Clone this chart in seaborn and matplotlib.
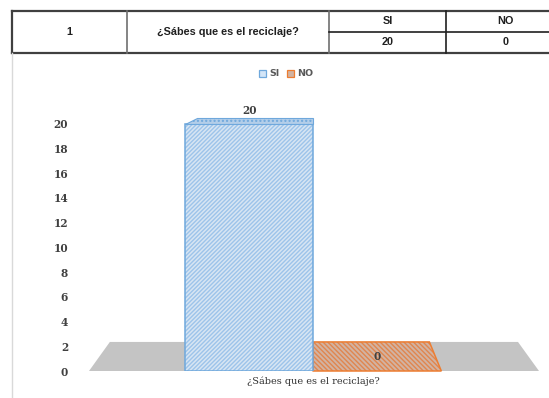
import matplotlib
matplotlib.use("Agg")
import numpy as np
import pandas as pd
import matplotlib.pyplot as plt
import seaborn as sns
from matplotlib.patches import Polygon, Rectangle, Patch
from matplotlib.lines import Line2D

# datos de la encuesta
numero_pregunta = 1
preguntas = ["¿Sábes que es el reciclaje?"]
respuestas = ["SI", "NO"]
cantidades = [20, 0]

colores_borde = {"SI": "#6FA8DC", "NO": "#ED7D31"}
colores_fondo = {"SI": "#D3E5F7", "NO": "#D2B3A2"}
colores_trama = {"SI": "#9DC4EA", "NO": "#E0864F"}
tramas = {"SI": "////////", "NO": "\\\\\\\\\\\\\\"}

df = pd.DataFrame({
    "pregunta": preguntas * len(respuestas),
    "respuesta": respuestas,
    "cantidad": cantidades,
})

W, H = 549, 398
fig = plt.figure(figsize=(W / 100, H / 100), dpi=100)
fig.patch.set_facecolor("white")


def fx(x):
    return x / W


def fy(y):
    return 1 - y / H


# tabla de arriba
t_left, t_top, t_mid, t_bot = 12, 10.5, 31.5, 53
cols = [12, 127, 329, 446, 565]
fig.add_artist(Line2D([fx(t_left), 1], [fy(t_top)] * 2, color="#404040", lw=1.6))
fig.add_artist(Line2D([fx(t_left), 1], [fy(t_bot)] * 2, color="#404040", lw=1.6))
fig.add_artist(Line2D([fx(t_left)] * 2, [fy(t_top), fy(t_bot)], color="#404040", lw=1.6))
for c, col in zip(cols[1:4], ["#707070", "#707070", "#202020"]):
    fig.add_artist(Line2D([fx(c)] * 2, [fy(t_top), fy(t_bot)], color=col, lw=1.2))
fig.add_artist(Line2D([fx(cols[2]), 1], [fy(t_mid)] * 2, color="#202020", lw=1.2))
fuente_tabla = dict(family="Liberation Sans", weight="bold", size=7.8, color="#202020",
                    ha="center", va="center")
fig.text(fx((cols[0] + cols[1]) / 2), fy((t_top + t_bot) / 2), str(numero_pregunta), **fuente_tabla)
fig.text(fx((cols[1] + cols[2]) / 2), fy((t_top + t_bot) / 2), preguntas[0], **fuente_tabla)
for i, (r, v) in enumerate(zip(respuestas, cantidades)):
    cx = fx((cols[2 + i] + cols[3 + i]) / 2)
    fig.text(cx, fy((t_top + t_mid) / 2), r, **fuente_tabla)
    fig.text(cx, fy((t_mid + t_bot) / 2), str(v), **fuente_tabla)

# borde izquierdo del area del grafico
fig.add_artist(Line2D([fx(11.5)] * 2, [fy(t_bot), 0], color="#D9D9D9", lw=1))

# grafico
ax = fig.add_axes([fx(89), fy(371), fx(539) - fx(89), fy(99) - fy(371)])
sns.barplot(data=df, x="pregunta", y="cantidad", hue="respuesta", hue_order=respuestas,
            palette=colores_fondo, width=0.8, ax=ax, legend=False, zorder=3)
ax.set_xlim(-0.7, 0.705)
ax.set_ylim(0, 22)
ax.set_yticks(range(0, 21, 2))
ax.set_xlabel("")
ax.set_ylabel("")
for s in ax.spines.values():
    s.set_visible(False)
ax.tick_params(length=0)
ax.tick_params(axis="y", pad=15)
ax.tick_params(axis="x", pad=4)
for lab in ax.get_yticklabels():
    lab.set_fontfamily("DejaVu Serif")
    lab.set_fontweight("bold")
    lab.set_fontsize(7.6)
    lab.set_color("#404040")
for lab in ax.get_xticklabels():
    lab.set_fontfamily("DejaVu Serif")
    lab.set_fontsize(7)
    lab.set_color("#303030")

plt.rcParams["hatch.linewidth"] = 1.0

# piso en perspectiva
k = 0.093
prof = 2.35


def fondo(x):
    return x * (1 - k)


x0, x1 = ax.get_xlim()
piso = Polygon([(x0, 0), (x1, 0), (fondo(x1), prof), (fondo(x0), prof)],
               closed=True, facecolor="#C4C4C4", edgecolor="none", zorder=1, clip_on=False)
ax.add_patch(piso)

for cont, r in zip(ax.containers, respuestas):
    for bar in cont:
        bx0 = bar.get_x()
        bx1 = bx0 + bar.get_width()
        h = bar.get_height()
        if h > 0:
            bar.set_hatch(tramas[r])
            bar.set_edgecolor(colores_trama[r])
            bar.set_linewidth(0)
            ax.add_patch(Rectangle((bx0, 0), bx1 - bx0, h, fill=False,
                                   edgecolor=colores_borde[r], lw=1.1, zorder=4))
            tapa = Polygon([(bx0, h), (bx1, h), (fondo(bx1), h + 0.5), (fondo(bx0), h + 0.5)],
                           closed=True, facecolor="#B3CEE9", edgecolor=colores_borde[r],
                           hatch="....", lw=0.8, zorder=4, clip_on=False)
            ax.add_patch(tapa)
            ax.text((bx0 + bx1) / 2, h + 1.05, str(int(h)), ha="center", va="center",
                    family="DejaVu Serif", weight="bold", size=7.6, color="#404040")
        else:
            huella = Polygon([(bx0, 0), (bx1, 0), (fondo(bx1), prof), (fondo(bx0), prof)],
                             closed=True, facecolor=colores_fondo[r], edgecolor=colores_trama[r],
                             hatch=tramas[r], lw=0, zorder=2, clip_on=False)
            ax.add_patch(huella)
            ax.add_patch(Polygon([(bx0, 0), (bx1, 0), (fondo(bx1), prof), (fondo(bx0), prof)],
                                 closed=True, fill=False, edgecolor=colores_borde[r],
                                 lw=1.1, zorder=2, clip_on=False))
            ax.text((bx0 + bx1) / 2, prof / 2, str(int(h)), ha="center", va="center",
                    family="DejaVu Serif", weight="bold", size=7.6, color="#404040", zorder=5)

# leyenda
manejadores = [Patch(facecolor=colores_fondo[r], edgecolor=colores_borde[r], lw=0.9, label=r)
               for r in respuestas]
fig.legend(handles=manejadores, loc="center", bbox_to_anchor=(fx(286), fy(74)), ncol=2,
           frameon=False, handlelength=0.75, handleheight=0.75, handletextpad=0.3,
           columnspacing=0.8, prop=dict(family="DejaVu Sans", weight="bold", size=6.8),
           labelcolor="#595959")

fig.savefig("out.png", dpi=100)
